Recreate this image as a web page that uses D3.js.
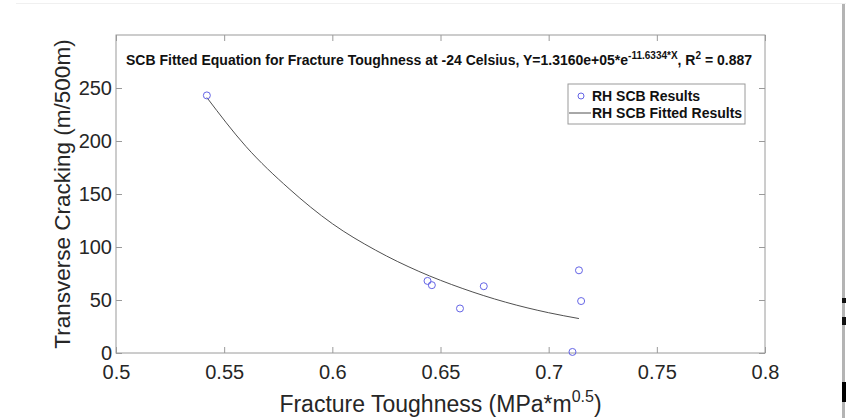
<!DOCTYPE html>
<html>
<head>
<meta charset="utf-8">
<script src="https://cdnjs.cloudflare.com/ajax/libs/d3/7.8.5/d3.min.js"></script>
<style>
  html, body { margin: 0; padding: 0; background: #fff; }
  svg { display: block; font-family: "Liberation Sans", Arial, sans-serif; }
</style>
</head>
<body>
<div id="chart"></div>
<script>
// measured points (fracture toughness, transverse cracking)
const toughness = [0.542, 0.644, 0.646, 0.659, 0.670, 0.711, 0.714, 0.715];
const cracking = [243, 68, 64, 42, 63, 1, 78, 49];

// fitted curve
const fitX = [0.542, 0.56, 0.58, 0.60, 0.62, 0.64, 0.66, 0.68, 0.70, 0.714];
const fitY = [241, 195, 155, 122, 97, 77, 61, 48, 38, 32.5];

const xTicks = [0.5, 0.55, 0.6, 0.65, 0.7, 0.75, 0.8];
const yTicks = [0, 50, 100, 150, 200, 250];
const legendLabels = ['RH SCB Results', 'RH SCB Fitted Results'];

const width = 846, height = 418;
const margin = { top: 35, right: 81, bottom: 65, left: 116 };

const svg = d3.select('#chart').append('svg').attr('width', width).attr('height', height);

const x = d3.scaleLinear().domain([0.5, 0.8]).range([margin.left, width - margin.right]);
const y = d3.scaleLinear().domain([0, 300]).range([height - margin.bottom, margin.top]);

const axisColor = '#9a9a9a';
const textColor = '#262626';
const tickLen = 6;

// box
svg.append('rect')
  .attr('x', x(0.5)).attr('y', y(300))
  .attr('width', x(0.8) - x(0.5)).attr('height', y(0) - y(300))
  .attr('fill', 'none').attr('stroke', axisColor).attr('stroke-width', 1);

// bottom axis
const gx = svg.append('g').attr('transform', `translate(0,${y(0)})`)
  .call(d3.axisBottom(x).tickValues(xTicks).tickSize(-tickLen).tickPadding(11).tickFormat(d3.format('')));
// left axis
const gy = svg.append('g').attr('transform', `translate(${x(0.5)},0)`)
  .call(d3.axisLeft(y).tickValues(yTicks).tickSize(-tickLen).tickPadding(4));
// top / right mirrored ticks
const gt = svg.append('g').attr('transform', `translate(0,${y(300)})`)
  .call(d3.axisTop(x).tickValues(xTicks).tickSize(-tickLen).tickFormat(''));
const gr = svg.append('g').attr('transform', `translate(${x(0.8)},0)`)
  .call(d3.axisRight(y).tickValues(yTicks).tickSize(-tickLen).tickFormat(''));

[gx, gy, gt, gr].forEach((g) => {
  g.select('.domain').remove();
  g.selectAll('.tick line').attr('stroke', axisColor);
  g.selectAll('.tick text').attr('fill', textColor).style('font-size', '20px');
});
gx.selectAll('.tick text').attr('dy', '0.75em');
gy.selectAll('.tick text').attr('dy', '0.3em');

// fitted curve
const line = d3.line()
  .x((d, i) => x(fitX[i]))
  .y((d) => y(d))
  .curve(d3.curveMonotoneX);
svg.append('path')
  .datum(fitY)
  .attr('d', line)
  .attr('fill', 'none')
  .attr('stroke', '#505050')
  .attr('stroke-width', 1);

// points
svg.append('g').selectAll('circle')
  .data(toughness)
  .enter().append('circle')
  .attr('cx', (d) => x(d))
  .attr('cy', (d, i) => y(cracking[i]))
  .attr('r', 3.5)
  .attr('fill', 'none')
  .attr('stroke', '#6464e6')
  .attr('stroke-width', 1);

// title
const title = svg.append('text')
  .attr('x', 126).attr('y', 65)
  .attr('fill', '#111')
  .style('font-size', '14px').style('font-weight', 'bold');
title.append('tspan').text('SCB Fitted Equation for Fracture Toughness at -24 Celsius, Y=1.3160e+05*e');
title.append('tspan').attr('dy', -6).style('font-size', '10px').text('-11.6334*X');
title.append('tspan').attr('dy', 6).text(', R');
title.append('tspan').attr('dy', -6).style('font-size', '10px').text('2');
title.append('tspan').attr('dy', 6).text(' = 0.887');

// legend
const lg = svg.append('g');
lg.append('rect')
  .attr('x', 568).attr('y', 84).attr('width', 177).attr('height', 40)
  .attr('fill', '#fff').attr('stroke', axisColor).attr('stroke-width', 1);
lg.append('circle').attr('cx', 581).attr('cy', 96).attr('r', 3)
  .attr('fill', 'none').attr('stroke', '#6464e6');
lg.append('line').attr('x1', 569).attr('x2', 591).attr('y1', 113).attr('y2', 113)
  .attr('stroke', '#505050');
lg.selectAll('text.lab')
  .data(legendLabels)
  .enter().append('text')
  .attr('class', 'lab')
  .attr('x', 592)
  .attr('y', (d, i) => 101 + i * 17)
  .attr('fill', '#111')
  .style('font-size', '14px').style('font-weight', 'bold')
  .text((d) => d);

// axis labels
svg.append('text')
  .attr('transform', `translate(70,${(y(0) + y(300)) / 2}) rotate(-90)`)
  .attr('text-anchor', 'middle')
  .attr('fill', textColor)
  .style('font-size', '22.5px')
  .text('Transverse Cracking (m/500m)');

const xl = svg.append('text')
  .attr('x', (x(0.5) + x(0.8)) / 2).attr('y', 412)
  .attr('text-anchor', 'middle')
  .attr('fill', textColor)
  .style('font-size', '23px');
xl.append('tspan').text('Fracture Toughness (MPa*m');
xl.append('tspan').attr('dy', -10).style('font-size', '16px').text('0.5');
xl.append('tspan').attr('dy', 10).text(')');

// page edge artefacts from the screenshot
svg.append('line').attr('x1', 16).attr('x2', 846).attr('y1', 3.5).attr('y2', 3.5)
  .attr('stroke', '#f0f0f0');
svg.append('rect').attr('x', 842).attr('y', 4).attr('width', 3).attr('height', 414).attr('fill', '#b4b4b4');
svg.append('rect').attr('x', 842).attr('y', 298).attr('width', 4).attr('height', 5).attr('fill', '#111');
svg.append('rect').attr('x', 842).attr('y', 317).attr('width', 4).attr('height', 8).attr('fill', '#111');
svg.append('rect').attr('x', 842).attr('y', 382).attr('width', 4).attr('height', 20).attr('fill', '#000');
</script>
</body>
</html>
